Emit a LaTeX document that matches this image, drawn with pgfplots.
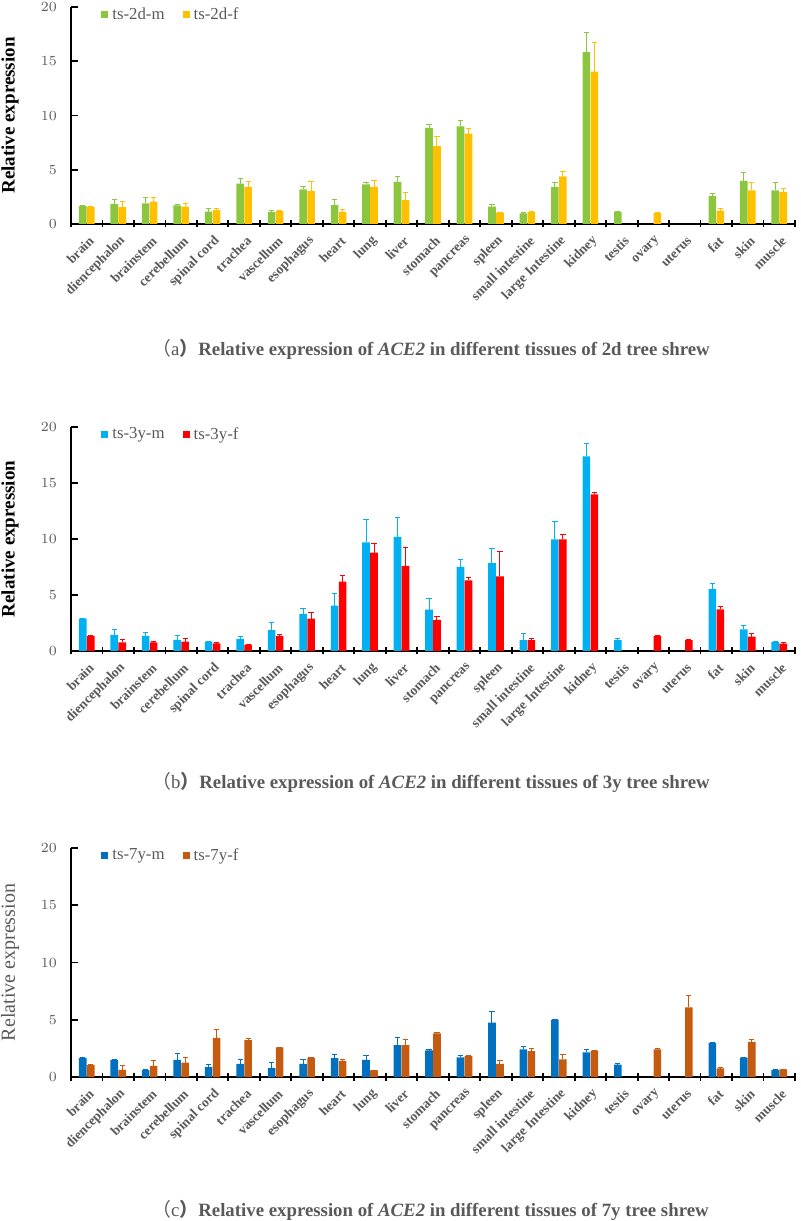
\documentclass[border=0pt]{standalone}
\usepackage{pgfplots}
\pgfplotsset{compat=1.18}
\usepackage{pgfplotstable}
\usepackage{fontspec}
\setmainfont{Liberation Serif}
\newfontfamily\cjk{Noto Sans CJK SC}
\definecolor{txtgray}{HTML}{595959}
\definecolor{cAm}{HTML}{8CC63E}
\definecolor{cAf}{HTML}{FFC000}
\definecolor{cBm}{HTML}{00B0F0}
\definecolor{cBf}{HTML}{FF0000}
\definecolor{cCm}{HTML}{0070C0}
\definecolor{cCf}{HTML}{C55A11}

\pgfplotstableread{
x m me f fe
0 1.65 0.08 1.55 0.06
1 1.85 0.42 1.55 0.50
2 1.90 0.50 2.05 0.36
3 1.72 0.10 1.60 0.28
4 1.15 0.27 1.28 0.12
5 3.73 0.42 3.42 0.50
6 1.12 0.10 1.18 0.10
7 3.18 0.30 3.03 0.85
8 1.75 0.50 1.12 0.18
9 3.64 0.18 3.42 0.55
10 3.88 0.50 2.20 0.67
11 8.85 0.36 7.18 0.88
12 9.00 0.50 8.33 0.45
13 1.60 0.20 1.00 0.06
14 0.98 0.05 1.12 0.06
15 3.42 0.40 4.39 0.45
16 15.85 1.80 14.05 2.70
17 1.12 0.05 nan nan
18 nan nan 1.00 0.06
19 nan nan nan nan
20 2.58 0.24 1.24 0.22
21 3.97 0.73 3.09 0.76
22 3.09 0.70 2.94 0.30
}\dataA

\pgfplotstableread{
x m me f fe
0 2.90 0.04 1.34 0.04
1 1.45 0.50 0.76 0.24
2 1.36 0.27 0.78 0.05
3 1.00 0.40 0.84 0.24
4 0.84 0.04 0.68 0.04
5 1.08 0.18 0.57 0.04
6 1.86 0.71 1.34 0.15
7 3.32 0.50 2.90 0.50
8 4.06 1.10 6.20 0.57
9 9.70 2.00 8.79 0.83
10 10.20 1.68 7.60 1.66
11 3.70 0.97 2.77 0.33
12 7.50 0.70 6.30 0.30
13 7.85 1.33 6.67 2.20
14 0.98 0.60 0.98 0.15
15 9.97 1.62 9.97 0.47
16 17.37 1.18 13.98 0.20
17 0.98 0.18 nan nan
18 nan nan 1.34 0.05
19 nan nan 0.98 0.05
20 5.55 0.50 3.72 0.24
21 1.93 0.36 1.28 0.24
22 0.80 0.04 0.65 0.15
}\dataB

\pgfplotstableread{
x m me f fe
0 1.64 0.05 1.06 0.05
1 1.49 0.05 0.63 0.35
2 0.63 0.03 0.98 0.46
3 1.49 0.52 1.26 0.43
4 0.86 0.23 3.42 0.72
5 1.15 0.40 3.22 0.12
6 0.80 0.49 2.59 0.03
7 1.15 0.37 1.67 0.03
8 1.64 0.29 1.41 0.14
9 1.49 0.37 0.57 0.03
10 2.79 0.66 2.79 0.49
11 2.33 0.04 3.82 0.03
12 1.72 0.17 1.84 0.04
13 4.74 1.00 1.15 0.26
14 2.41 0.29 2.27 0.23
15 5.00 0.04 1.55 0.40
16 2.16 0.23 2.30 0.04
17 1.09 0.06 nan nan
18 nan nan 2.41 0.04
19 nan nan 6.09 1.03
20 2.99 0.04 0.75 0.04
21 1.70 0.04 3.07 0.23
22 0.60 0.04 0.66 0.03
}\dataC

\pgfplotsset{
  panel/.style={
    scale only axis, width=362pt,
    xmin=-0.5, xmax=22.5, ymin=0, ymax=20,
    axis x line=bottom, axis y line=left,
    axis line style={-, line width=1pt, black},
    tick style={line width=0.9pt, black},
    major tick length=3.5pt, minor tick length=3.5pt,
    xtick align=center, ytick align=inside,
    ytick={0,5,10,15,20},
    xtick={0,...,22},
    xticklabels={brain,diencephalon,brainstem,cerebellum,spinal cord,trachea,vascellum,esophagus,heart,lung,liver,stomach,pancreas,spleen,small intestine,large Intestine,kidney,testis,ovary,uterus,fat,skin,muscle},
    minor xtick={-0.5,0.5,...,22.5},
    major x tick style={draw=none},
    xticklabel style={xshift=2.5pt, yshift=-5.5pt, rotate=45, anchor=east, inner sep=0pt,
        font=\bfseries\fontsize{6.8}{8}\selectfont, text=txtgray},
    yticklabel style={xshift=-3.5pt, font=\bfseries\fontsize{7.5}{9}\selectfont, text=txtgray},
    every axis y label/.style={at={(axis description cs:0,0.5)}, xshift=-30.5pt, rotate=90, anchor=center},
    ylabel={Relative expression},
    ylabel style={font=\bfseries\fontsize{9.5}{11}\selectfont, text=black},
    legend columns=2,
    legend style={draw=none, fill=none, at={(axis description cs:0,1)}, anchor=north west,
      xshift=12pt, yshift=4pt, font=\fontsize{8.4}{10}\selectfont, text=txtgray,
      /tikz/every even column/.append style={column sep=7pt}},
    legend cell align=left,
  },
  mbar/.style={ybar, bar width=3.8pt, bar shift=-2pt, draw=none, fill=#1,
    legend image code/.code={\fill[#1] (0pt,-1.75pt) rectangle (3.5pt,1.75pt);}},
  fbar/.style={ybar, bar width=3.8pt, bar shift=2pt, draw=none, fill=#1,
    legend image code/.code={\fill[#1] (0pt,-1.75pt) rectangle (3.5pt,1.75pt);}},
  errb/.style={forget plot, draw=none, mark=none,
    error bars/.cd, y dir=plus, y explicit,
    error bar style={draw=#1, line width=0.5pt},
    error mark options={rotate=90, draw=#1, mark size=1.3pt, line width=0.5pt}},
}

\newcommand\captxt[2]{{\mdseries\cjk （}{\mdseries #1}{\cjk ）}Relative expression of \textit{ACE2} in different tissues of #2 tree shrew}

\begin{document}
\begin{tikzpicture}
\useasboundingbox (0,0) rectangle (400pt,610.5pt);

\begin{axis}[panel, height=108.5pt, at={(35.5pt,498.5pt)}, anchor=south west]
\addplot[mbar=cAm] table[x=x, y=m] {\dataA};
\addlegendentry{ts-2d-m}
\addplot[fbar=cAf] table[x=x, y=f] {\dataA};
\addlegendentry{ts-2d-f}
\addplot[errb=cAm] table[x expr=\thisrow{x}-0.127, y=m, y error=me] {\dataA};
\addplot[errb=cAf] table[x expr=\thisrow{x}+0.127, y=f, y error=fe] {\dataA};
\end{axis}

\begin{axis}[panel, height=112pt, at={(35.5pt,285pt)}, anchor=south west]
\addplot[mbar=cBm] table[x=x, y=m] {\dataB};
\addlegendentry{ts-3y-m}
\addplot[fbar=cBf] table[x=x, y=f] {\dataB};
\addlegendentry{ts-3y-f}
\addplot[errb=cBm] table[x expr=\thisrow{x}-0.127, y=m, y error=me] {\dataB};
\addplot[errb=cBf] table[x expr=\thisrow{x}+0.127, y=f, y error=fe] {\dataB};
\end{axis}

\begin{axis}[panel, height=114.5pt, at={(35.5pt,72pt)}, anchor=south west,
  ylabel style={font=\mdseries\fontsize{10}{12}\selectfont, text=txtgray}]
\addplot[mbar=cCm] table[x=x, y=m] {\dataC};
\addlegendentry{ts-7y-m}
\addplot[fbar=cCf] table[x=x, y=f] {\dataC};
\addlegendentry{ts-7y-f}
\addplot[errb=cCm] table[x expr=\thisrow{x}-0.127, y=m, y error=me] {\dataC};
\addplot[errb=cCf] table[x expr=\thisrow{x}+0.127, y=f, y error=fe] {\dataC};
\end{axis}

\node[anchor=west, inner sep=0pt, text=txtgray, font=\bfseries\fontsize{9.4}{11}\selectfont] at (76pt,436pt) {\captxt{a}{2d}};
\node[anchor=west, inner sep=0pt, text=txtgray, font=\bfseries\fontsize{9.4}{11}\selectfont] at (76pt,219.5pt) {\captxt{b}{3y}};
\node[anchor=west, inner sep=0pt, text=txtgray, font=\bfseries\fontsize{9.4}{11}\selectfont] at (76pt,5.5pt) {\captxt{c}{7y}};
\end{tikzpicture}
\end{document}
